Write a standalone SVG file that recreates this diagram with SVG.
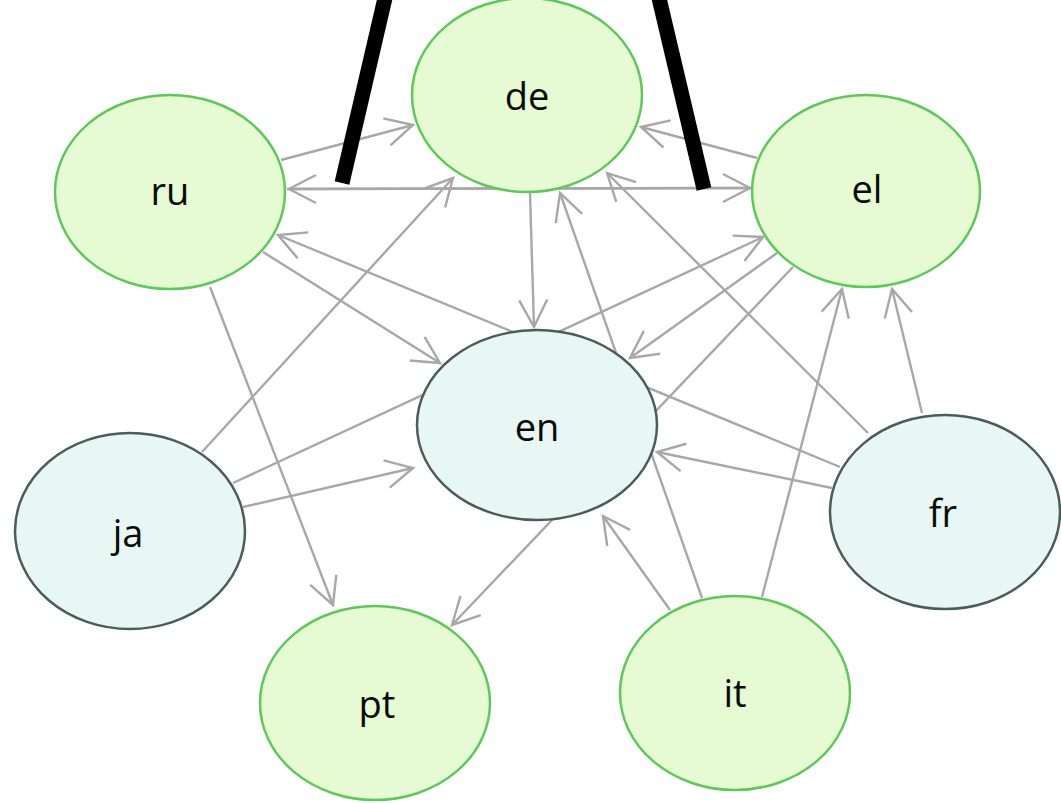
<svg xmlns="http://www.w3.org/2000/svg" width="1061" height="803" viewBox="0 0 1061 803">
  <style>
    .edge { fill: none; stroke: #a8a8a8; stroke-width: 2.4; marker-end: url(#arrow); }
    .lang-a ellipse { fill: #e6fad3; stroke: #5ec85a; stroke-width: 2.5; }
    .lang-b ellipse { fill: #e8f7f4; stroke: #4b5d57; stroke-width: 2.5; }
    .label { font-family: "Open Sans", "Noto Sans", sans-serif; font-size: 38px; fill: #0a0a0a; text-anchor: middle; }
    .bar { stroke: #000; stroke-width: 15; }
  </style>
  <defs>
    <marker id="arrow" markerUnits="userSpaceOnUse" orient="auto" markerWidth="40" markerHeight="40" viewBox="-32 -20 40 40" refX="0" refY="0" overflow="visible">
      <path d="M -27,-14 L 0,0 L -27,14" fill="none" stroke="#a8a8a8" stroke-width="2.4" stroke-linejoin="miter"/>
    </marker>
  </defs>
  <rect width="1061" height="803" fill="#ffffff"/>

  <!-- connectors: drawn first so the nodes sit on top -->
  <g id="connectors">
    <line class="edge" x1="281" y1="160" x2="413" y2="125"/>
    <line class="edge" x1="287" y1="189" x2="750" y2="188"/>
    <line class="edge" x1="752" y1="188" x2="289" y2="189"/>
    <line class="edge" x1="757" y1="158" x2="641" y2="127"/>
    <line class="edge" x1="202" y1="452" x2="453" y2="178"/>
    <line class="edge" x1="530" y1="193" x2="534" y2="327"/>
    <line class="edge" x1="702" y1="598" x2="560" y2="193"/>
    <line class="edge" x1="868" y1="433" x2="607" y2="173"/>
    <line class="edge" x1="762" y1="597" x2="842" y2="289"/>
    <line class="edge" x1="922" y1="413" x2="892" y2="289"/>
    <line class="edge" x1="777" y1="253" x2="630" y2="358"/>
    <line class="edge" x1="233" y1="483" x2="763" y2="237"/>
    <line class="edge" x1="840" y1="467" x2="278" y2="235"/>
    <line class="edge" x1="793" y1="267" x2="452" y2="625"/>
    <line class="edge" x1="263" y1="252" x2="440" y2="363"/>
    <line class="edge" x1="243" y1="507" x2="413" y2="468"/>
    <line class="edge" x1="832" y1="488" x2="657" y2="452"/>
    <line class="edge" x1="670" y1="610" x2="603" y2="516"/>
    <line class="edge" x1="210" y1="287" x2="333" y2="605"/>
  </g>

  <g id="node-de" class="lang-a">
    <ellipse cx="527" cy="95" rx="115" ry="97"/>
    <text class="label" x="527" y="110">de</text>
  </g>
  <g id="node-ru" class="lang-a">
    <ellipse cx="170" cy="192" rx="115" ry="97"/>
    <text class="label" x="170" y="205">ru</text>
  </g>
  <g id="node-el" class="lang-a">
    <ellipse cx="866" cy="191" rx="114" ry="96"/>
    <text class="label" x="867" y="203">el</text>
  </g>
  <g id="node-en" class="lang-b">
    <ellipse cx="537" cy="425" rx="120" ry="95"/>
    <text class="label" x="537" y="441">en</text>
  </g>
  <g id="node-ja" class="lang-b">
    <ellipse cx="130" cy="531" rx="115" ry="98"/>
    <text class="label" x="128" y="547">ja</text>
  </g>
  <g id="node-fr" class="lang-b">
    <ellipse cx="945" cy="512" rx="115" ry="97"/>
    <text class="label" x="943" y="527">fr</text>
  </g>
  <g id="node-pt" class="lang-a">
    <ellipse cx="375" cy="703" rx="115" ry="97"/>
    <text class="label" x="377" y="718">pt</text>
  </g>
  <g id="node-it" class="lang-a">
    <ellipse cx="735" cy="693" rx="115" ry="97"/>
    <text class="label" x="735" y="707">it</text>
  </g>

  <!-- heavy black strokes over the top of the graph -->
  <g id="bars">
    <line class="bar" x1="385" y1="-2" x2="342" y2="183"/>
    <line class="bar" x1="659" y1="-2" x2="704" y2="189"/>
  </g>
</svg>
